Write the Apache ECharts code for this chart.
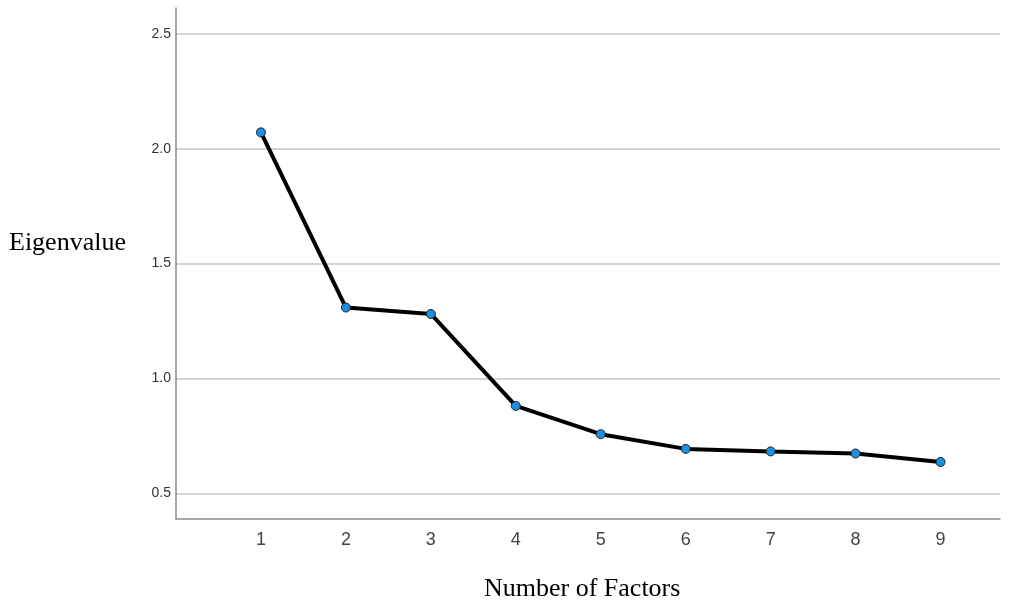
<!DOCTYPE html>
<html><head><meta charset="utf-8">
<script src="https://cdn.jsdelivr.net/npm/echarts@6/dist/echarts.min.js"></script>
<style>html,body{margin:0;padding:0;background:#fff}#c{width:1014px;height:601px}</style>
</head><body><div id="c"></div>
<script>
const factors = [1, 2, 3, 4, 5, 6, 7, 8, 9];
const eigenvalues = [2.071, 1.309, 1.281, 0.881, 0.758, 0.694, 0.683, 0.674, 0.637];
const yTicks = [0.5, 1.0, 1.5, 2.0, 2.5];
const xTicks = [1, 2, 3, 4, 5, 6, 7, 8, 9];

const chart = echarts.init(document.getElementById('c'));
chart.setOption({
  animation: false,
  grid: {left: 176, right: 14, top: 8, bottom: 82, containLabel: false},
  xAxis: {
    type: 'value', min: 0, max: 9.7,
    axisLine: {show: true, lineStyle: {color: '#8a8a8a', width: 1.5}},
    axisTick: {show: false, customValues: xTicks},
    splitLine: {show: false},
    axisLabel: {customValues: xTicks, color: '#444', fontSize: 18, fontFamily: 'Arial, Liberation Sans, sans-serif', margin: 12,
      formatter: v => String(v)}
  },
  yAxis: {
    type: 'value', min: 0.389, max: 2.612,
    axisLine: {show: true, lineStyle: {color: '#8a8a8a', width: 1.5}},
    axisTick: {show: false, customValues: yTicks},
    splitLine: {show: true, lineStyle: {color: '#d4d4d4', width: 2}},
    axisLabel: {customValues: yTicks, color: '#333', fontSize: 14, fontFamily: 'Arial, Liberation Sans, sans-serif', margin: 5,
      formatter: v => v.toFixed(1)}
  },
  series: [{
    type: 'line',
    data: factors.map((f, i) => [f, eigenvalues[i]]),
    lineStyle: {color: '#000', width: 4},
    symbol: 'circle', symbolSize: 9,
    itemStyle: {color: '#1a8fe3', borderColor: '#222', borderWidth: 1},
    z: 5
  }],
  graphic: [
    {type: 'text', left: 9, top: 230, style: {text: 'Eigenvalue', font: '26px "Liberation Serif", "Times New Roman", serif', fill: '#000'}},
    {type: 'text', left: 484, top: 576, style: {text: 'Number of Factors', font: '26px "Liberation Serif", "Times New Roman", serif', fill: '#000'}}
  ]
});
</script></body></html>
